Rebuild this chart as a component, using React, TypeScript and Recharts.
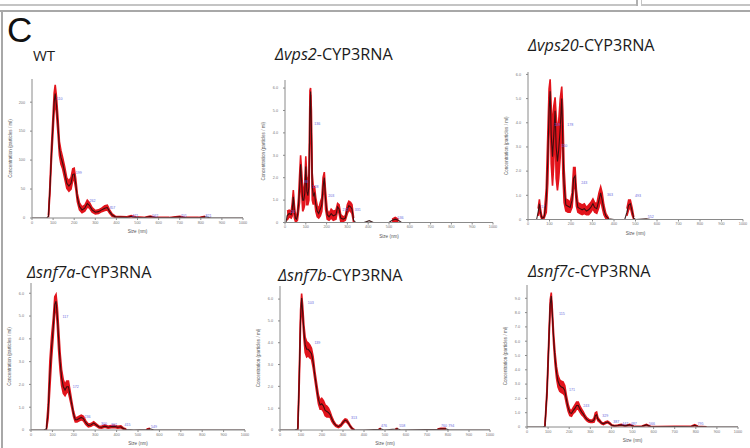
import React from "react";
import { ComposedChart, Area, Line, Scatter, XAxis, YAxis } from "recharts";

// x axis of every NTA panel
const sizeTicks = [0, 100, 200, 300, 400, 500, 600, 700, 800, 900, 1000];

// WT
const wtSizes = [
  0, 40, 70, 78, 85, 92, 100, 105, 110, 116,
  123, 130, 137, 145, 155, 165, 175, 185, 193, 200,
  207, 215, 225, 237, 250, 262, 272, 285, 300, 315,
  330, 345, 357, 368, 380, 395, 420, 450, 470, 490,
  530, 560, 590, 650, 700, 730, 790, 820, 850, 900,
  1000,
];
const wtMean = [
  0, 0, 0, 3, 50, 110, 165, 200, 215, 195,
  160, 120, 105, 95, 78, 60, 55, 60, 75, 76,
  60, 35, 20, 14, 17, 25, 22, 14, 10, 11,
  14, 17, 18, 11, 5, 2, 1.5, 1, 3, 1,
  0.5, 2.5, 0.5, 0.5, 2, 0.5, 0.5, 2, 0, 0,
  0,
];
const wtErr = [
  0, 0, 0, 2, 8, 12, 15, 16, 15, 15,
  14, 12, 12, 10, 10, 9, 9, 10, 10, 10,
  9, 7, 6, 5, 5, 6, 5, 4, 3, 3,
  3, 4, 4, 3, 2, 1, 1, 1, 1, 1,
  0.5, 1, 0.5, 0.5, 1, 0.5, 0.5, 1, 0, 0,
  0,
];
const wtTicks = [0, 50, 100, 150, 200];
const wtPeaks: [number, number, string][] = [
  [113, 205, "110"], [203, 78, "199"], [268, 29, "262"], [362, 17, "357"],
  [470, 4, "471"], [565, 4, "562"], [700, 3, "701"], [818, 4, "821"],
];

// vps2
const vps2Sizes = [
  0, 5, 10, 20, 30, 35, 40, 45, 50, 55,
  60, 65, 70, 75, 80, 85, 90, 95, 100, 105,
  110, 115, 120, 123, 127, 131, 136, 142, 148, 155,
  162, 170, 177, 183, 189, 195, 203, 212, 222, 232,
  245, 253, 260, 268, 280, 290, 300, 307, 315, 322,
  330, 340, 380, 405, 425, 500, 515, 530, 545, 560,
  1000,
];
const vps2Mean = [
  0, 0, 0.3, 0.4, 0.35, 0.6, 1.15, 0.5, 0.2, 0.15,
  0.3, 0.8, 1.5, 2.6, 1.8, 1.0, 1.0, 1.3, 2.5, 1.4,
  1.2, 1.6, 5.0, 5.85, 4.2, 1.6, 1.2, 1.3, 0.8, 0.5,
  0.4, 0.6, 0.8, 1.6, 2.0, 1.0, 0.35, 0.25, 0.4, 0.3,
  0.35, 0.7, 0.6, 0.2, 0.15, 0.2, 0.6, 0.75, 0.7, 0.6,
  0.1, 0, 0, 0.08, 0, 0, 0.1, 0.15, 0.1, 0,
  0,
];
const vps2Err = [
  0, 0, 0.2, 0.15, 0.15, 0.3, 0.3, 0.3, 0.15, 0.1,
  0.2, 0.3, 0.6, 0.4, 0.5, 0.5, 0.4, 0.5, 0.45, 0.6,
  0.4, 0.6, 0.9, 0.15, 0.8, 0.6, 0.4, 0.3, 0.3, 0.25,
  0.2, 0.3, 0.3, 0.4, 0.25, 0.4, 0.2, 0.15, 0.2, 0.2,
  0.2, 0.15, 0.2, 0.15, 0.1, 0.1, 0.2, 0.2, 0.2, 0.2,
  0.1, 0, 0, 0.05, 0, 0, 0.05, 0.08, 0.05, 0,
  0,
];
const vps2Ticks = [0, 1, 2, 3, 4, 5, 6];
const vps2Peaks: [number, number, string][] = [
  [24, 0.45, "24"], [88, 1.8, "88"], [136, 4.4, "136"], [128, 1.6, "128"],
  [203, 1.2, "203"], [272, 0.57, "272"], [331, 0.57, "331"], [536, 0.2, "536"],
];

// vps20
const vps20Sizes = [
  0, 40, 47, 53, 58, 65, 75, 85, 92, 98,
  103, 108, 114, 120, 126, 131, 137, 143, 150, 157,
  162, 168, 176, 186, 196, 205, 212, 219, 225, 232,
  242, 252, 262, 272, 282, 292, 302, 310, 320, 330,
  338, 345, 353, 362, 375, 400, 450, 460, 468, 476,
  484, 492, 500, 550, 570, 1000,
];
const vps20Mean = [
  0, 0, 0.3, 0.65, 0.3, 0.05, 0.1, 0.8, 2.5, 4.5,
  5.3, 3.5, 2.6, 3.5, 4.5, 3.0, 2.4, 2.9, 3.8, 5.0,
  3.2, 1.4, 0.6, 0.55, 0.5, 0.8, 1.7, 1.8, 0.9, 0.5,
  0.45, 0.4, 0.45, 0.35, 0.4, 0.5, 0.65, 0.5, 0.45, 0.8,
  1.1, 0.8, 0.4, 0.15, 0.03, 0, 0, 0.3, 0.6, 0.65,
  0.35, 0.05, 0, 0.03, 0, 0,
];
const vps20Err = [
  0, 0, 0.15, 0.18, 0.15, 0.05, 0.05, 0.5, 1.0, 0.9,
  0.5, 1.2, 1.2, 1.2, 0.55, 1.3, 1.2, 1.2, 1.2, 0.5,
  1.3, 0.7, 0.25, 0.25, 0.2, 0.3, 0.45, 0.35, 0.35, 0.2,
  0.2, 0.2, 0.2, 0.15, 0.2, 0.2, 0.2, 0.2, 0.2, 0.3,
  0.25, 0.3, 0.2, 0.1, 0.03, 0, 0, 0.15, 0.2, 0.15,
  0.15, 0.05, 0, 0.03, 0, 0,
];
const vps20Ticks = [0, 1, 2, 3, 4, 5, 6];
const vps20Peaks: [number, number, string][] = [
  [57, 0.5, "57"], [119, 3.9, "119"], [150, 3.06, "150"], [178, 3.9, "178"],
  [243, 1.52, "243"], [363, 1.0, "363"], [493, 0.98, "493"], [552, 0.1, "552"],
];

// snf7a
const snf7aSizes = [
  0, 60, 72, 80, 88, 96, 104, 111, 117, 123,
  129, 136, 143, 151, 159, 167, 175, 183, 191, 199,
  207, 215, 225, 235, 245, 256, 268, 280, 293, 305,
  318, 330, 345, 360, 375, 390, 405, 420, 432, 445,
  480, 540, 556, 575, 1000,
];
const snf7aMean = [
  0, 0, 0.05, 0.8, 2.4, 3.6, 4.5, 5.5, 5.65, 5.0,
  4.0, 3.0, 2.3, 1.9, 1.75, 1.9, 1.9, 1.5, 1.1, 0.7,
  0.45, 0.45, 0.5, 0.55, 0.5, 0.32, 0.2, 0.22, 0.3, 0.22,
  0.13, 0.12, 0.17, 0.12, 0.15, 0.16, 0.12, 0.14, 0.06, 0.02,
  0, 0.02, 0.05, 0, 0,
];
const snf7aErr = [
  0, 0, 0.05, 0.3, 0.6, 0.5, 0.4, 0.35, 0.3, 0.4,
  0.5, 0.4, 0.35, 0.3, 0.25, 0.25, 0.25, 0.2, 0.15, 0.12,
  0.1, 0.1, 0.1, 0.1, 0.1, 0.08, 0.06, 0.06, 0.06, 0.05,
  0.04, 0.04, 0.05, 0.04, 0.05, 0.05, 0.04, 0.04, 0.03, 0.02,
  0, 0.02, 0.03, 0, 0,
];
const snf7aTicks = [0, 1, 2, 3, 4, 5, 6];
const snf7aPeaks: [number, number, string][] = [
  [143, 4.98, "117"], [190, 1.9, "172"], [245, 0.59, "236"], [322, 0.26, "300"],
  [369, 0.22, "362"], [432, 0.22, "415"], [556, 0.15, "549"],
];

// snf7b
const snf7bSizes = [
  0, 70, 85, 92, 98, 103, 108, 114, 120, 127,
  134, 142, 150, 158, 166, 175, 183, 191, 199, 207,
  215, 223, 231, 239, 247, 255, 265, 278, 290, 300,
  310, 318, 327, 336, 345, 355, 400, 470, 480, 495,
  550, 560, 575, 750, 765, 790, 805, 1000,
];
const snf7bMean = [
  0, 0, 0.05, 2.5, 5.2, 6.05, 5.4, 4.5, 3.9, 3.7,
  3.7, 3.6, 3.5, 3.1, 2.5, 1.9, 1.4, 1.15, 1.2, 1.1,
  0.9, 0.85, 0.8, 0.7, 0.5, 0.35, 0.22, 0.15, 0.22, 0.35,
  0.45, 0.42, 0.3, 0.15, 0.05, 0.01, 0, 0.03, 0.05, 0,
  0.04, 0.05, 0, 0.03, 0.05, 0.05, 0, 0,
];
const snf7bErr = [
  0, 0, 0.05, 0.3, 0.3, 0.2, 0.3, 0.3, 0.35, 0.35,
  0.3, 0.3, 0.25, 0.25, 0.2, 0.2, 0.2, 0.2, 0.25, 0.25,
  0.25, 0.25, 0.2, 0.12, 0.1, 0.08, 0.05, 0.04, 0.05, 0.06,
  0.06, 0.06, 0.05, 0.04, 0.03, 0.01, 0, 0.02, 0.03, 0,
  0.02, 0.03, 0, 0.02, 0.03, 0.03, 0, 0,
];
const snf7bTicks = [0, 1, 2, 3, 4, 5, 6];
const snf7bPeaks: [number, number, string][] = [
  [127, 5.8, "103"], [159, 4.0, "139"], [333, 0.54, "313"], [476, 0.18, "476"],
  [563, 0.18, "558"], [762, 0.18, "760"], [797, 0.18, "794"],
];

// snf7c
const snf7cSizes = [
  0, 75, 85, 95, 104, 110, 115, 120, 126, 133,
  140, 147, 155, 163, 171, 179, 187, 195, 203, 211,
  219, 227, 235, 243, 251, 259, 267, 275, 283, 292,
  301, 310, 318, 324, 330, 336, 344, 353, 362, 372,
  382, 392, 402, 415, 430, 447, 465, 487, 505, 525,
  545, 566, 585, 620, 700, 780, 795, 810, 850, 1000,
];
const snf7cMean = [
  0, 0, 0.05, 2.5, 6.2, 8.6, 9.15, 7.9, 6.2, 4.8,
  3.8, 3.2, 2.9, 2.8, 2.75, 2.55, 1.9, 1.35, 1.0, 0.95,
  1.15, 1.3, 1.5, 1.5, 1.25, 1.05, 0.9, 0.7, 0.55, 0.45,
  0.4, 0.4, 0.5, 0.8, 0.85, 0.55, 0.42, 0.28, 0.22, 0.3,
  0.35, 0.25, 0.12, 0.08, 0.1, 0.15, 0.08, 0.15, 0.05, 0.03,
  0.05, 0.15, 0.03, 0.02, 0.03, 0.05, 0.12, 0.03, 0.01, 0,
];
const snf7cErr = [
  0, 0, 0.05, 0.3, 0.3, 0.3, 0.25, 0.35, 0.4, 0.4,
  0.4, 0.4, 0.4, 0.4, 0.4, 0.35, 0.3, 0.25, 0.2, 0.2,
  0.2, 0.25, 0.25, 0.25, 0.2, 0.2, 0.15, 0.12, 0.1, 0.1,
  0.08, 0.08, 0.15, 0.2, 0.2, 0.12, 0.08, 0.06, 0.05, 0.06,
  0.06, 0.05, 0.04, 0.03, 0.03, 0.04, 0.03, 0.04, 0.02, 0.02,
  0.02, 0.04, 0.02, 0.02, 0.02, 0.02, 0.04, 0.02, 0.01, 0,
];
const snf7cTicks = [0, 1, 2, 3, 4, 5, 6, 7, 8, 9];
const snf7cPeaks: [number, number, string][] = [
  [147, 7.9, "115"], [194, 2.56, "171"], [262, 1.44, "243"], [352, 0.74, "329"],
  [404, 0.35, "387"], [447, 0.19, "447"], [487, 0.23, "487"], [574, 0.19, "566"],
  [803, 0.19, "795"],
];

const RED = "#e2141c";
const MEAN = "#2e0c0c";
const AXIS = "#8a8a8a";
const SANS = '"Liberation Sans", Arial, sans-serif';

// the red error band is left out where the trace sits flat on zero
function rows(sizes: number[], mean: number[], err: number[]) {
  return sizes.map((s, i) => ({
    size: s,
    mean: mean[i],
    band:
      mean[i] === 0 && err[i] === 0
        ? null
        : [Math.max(0, mean[i] - err[i]), mean[i] + err[i]],
  }));
}

function peakRows(peaks: [number, number, string][]) {
  return peaks.map(([size, val, label]) => ({ size, val, label }));
}

function YTitle(props: any) {
  const vb = props.viewBox;
  const x = vb.x + 4;
  const y = vb.y + vb.height / 2;
  return (
    <text
      x={x}
      y={y}
      transform={`rotate(-90 ${x} ${y})`}
      textAnchor="middle"
      dominantBaseline="central"
      fontSize={4.6}
      fill="#555"
      fontFamily={SANS}
    >
      Concentration (particles / ml)
    </text>
  );
}

function XTitle(props: any) {
  const vb = props.viewBox;
  return (
    <text
      x={vb.x + vb.width / 2}
      y={vb.y + 15}
      textAnchor="middle"
      fontSize={4.6}
      fill="#555"
      fontFamily={SANS}
    >
      Size (nm)
    </text>
  );
}

function PeakLabel(props: any) {
  return (
    <text
      x={props.cx + 1}
      y={props.cy}
      fontSize={3.6}
      fill="#6a6ae0"
      dominantBaseline="central"
      fontFamily={SANS}
    >
      {props.payload.label}
    </text>
  );
}

interface PanelProps {
  left: number;
  right: number;
  top: number;
  base: number;
  yMax: number;
  yTicks: number[];
  data: any[];
  peaks: any[];
  fmt: (v: number) => string;
}

function NtaPanel({ left, right, top, base, yMax, yTicks, data, peaks, fmt }: PanelProps) {
  const padL = 26;
  const padR = 6;
  const padT = 4;
  const padB = 18;
  const w = right - left + padL + padR;
  const h = base - top + padT + padB;
  return (
    <div style={{ position: "absolute", left: left - padL, top: top - padT }}>
      <ComposedChart
        width={w}
        height={h}
        data={data}
        margin={{ top: padT, right: padR, left: 0, bottom: 0 }}
      >
        <XAxis
          type="number"
          dataKey="size"
          domain={[0, 1000]}
          ticks={sizeTicks}
          height={padB}
          stroke={AXIS}
          tickSize={2}
          tick={{ fontSize: 3.8, fill: "#777", fontFamily: SANS }}
          tickMargin={1}
          label={<XTitle />}
          allowDataOverflow
        />
        <YAxis
          type="number"
          domain={[0, yMax]}
          ticks={yTicks}
          width={padL}
          stroke={AXIS}
          tickSize={2}
          tickFormatter={fmt}
          tick={{ fontSize: 3.8, fill: "#777", fontFamily: SANS }}
          tickMargin={5}
          label={<YTitle />}
          allowDataOverflow
        />
        <Area
          type="linear"
          dataKey="band"
          stroke={RED}
          strokeWidth={1.6}
          fill={RED}
          fillOpacity={1}
          dot={false}
          activeDot={false}
          isAnimationActive={false}
        />
        <Line
          type="linear"
          dataKey="mean"
          stroke={MEAN}
          strokeWidth={1.1}
          strokeOpacity={0.9}
          dot={false}
          activeDot={false}
          isAnimationActive={false}
        />
        <Scatter
          data={peaks}
          dataKey="val"
          shape={<PeakLabel />}
          isAnimationActive={false}
        />
      </ComposedChart>
    </div>
  );
}

const titleStyle: React.CSSProperties = {
  position: "absolute",
  fontFamily: '"Open Sans", sans-serif',
  fontSize: 16.2,
  lineHeight: "16px",
  color: "#1b1b1b",
  whiteSpace: "nowrap",
};

const int = (v: number) => String(v);
const dec = (v: number) => (v === 0 ? "0" : v.toFixed(1));

export default function App() {
  return (
    <div
      style={{
        position: "absolute",
        left: 0,
        top: 0,
        width: 750,
        height: 448,
        background: "#fff",
        overflow: "hidden",
      }}
    >
      {/* frame of the figure */}
      <div style={{ position: "absolute", left: 0, top: 4, width: 637, height: 2, background: "#c4c4c4" }} />
      <div style={{ position: "absolute", left: 636, top: 0, width: 2, height: 6, background: "#b0b0b0" }} />
      <div style={{ position: "absolute", left: 641, top: 0, width: 1, height: 6, background: "#c4c4c4" }} />
      <div style={{ position: "absolute", left: 641, top: 4, width: 109, height: 2, background: "#c4c4c4" }} />
      <div style={{ position: "absolute", left: 0, top: 10, width: 750, height: 2, background: "#a8a8a8" }} />
      <div style={{ position: "absolute", left: 1, top: 10, width: 2, height: 438, background: "#a8a8a8" }} />

      <div
        style={{
          position: "absolute",
          left: 7,
          top: 12,
          fontFamily: SANS,
          fontSize: 35,
          lineHeight: "35px",
          color: "#111",
        }}
      >
        C
      </div>

      <div style={{ ...titleStyle, fontSize: 15, left: 33, top: 47 }}>WT</div>
      <div style={{ ...titleStyle, left: 275, top: 46 }}>
        <i>Δvps2</i>-CYP3RNA
      </div>
      <div style={{ ...titleStyle, left: 528, top: 37 }}>
        <i>Δvps20</i>-CYP3RNA
      </div>
      <div style={{ ...titleStyle, left: 27, top: 264 }}>
        <i>Δsnf7a</i>-CYP3RNA
      </div>
      <div style={{ ...titleStyle, left: 278, top: 267 }}>
        <i>Δsnf7b</i>-CYP3RNA
      </div>
      <div style={{ ...titleStyle, left: 528, top: 263 }}>
        <i>Δsnf7c</i>-CYP3RNA
      </div>

      <NtaPanel left={32} right={243} top={79} base={218} yMax={240} yTicks={wtTicks}
        data={rows(wtSizes, wtMean, wtErr)} peaks={peakRows(wtPeaks)} fmt={int} />
      <NtaPanel left={285} right={493} top={80} base={222.5} yMax={6.36} yTicks={vps2Ticks}
        data={rows(vps2Sizes, vps2Mean, vps2Err)} peaks={peakRows(vps2Peaks)} fmt={dec} />
      <NtaPanel left={528} right={743} top={72} base={219.5} yMax={6.1} yTicks={vps20Ticks}
        data={rows(vps20Sizes, vps20Mean, vps20Err)} peaks={peakRows(vps20Peaks)} fmt={dec} />
      <NtaPanel left={31} right={245} top={283} base={430} yMax={6.45} yTicks={snf7aTicks}
        data={rows(snf7aSizes, snf7aMean, snf7aErr)} peaks={peakRows(snf7aPeaks)} fmt={dec} />
      <NtaPanel left={280} right={490} top={286} base={430} yMax={6.6} yTicks={snf7bTicks}
        data={rows(snf7bSizes, snf7bMean, snf7bErr)} peaks={peakRows(snf7bPeaks)} fmt={dec} />
      <NtaPanel left={527} right={738} top={285} base={427} yMax={9.93} yTicks={snf7cTicks}
        data={rows(snf7cSizes, snf7cMean, snf7cErr)} peaks={peakRows(snf7cPeaks)} fmt={dec} />
    </div>
  );
}
